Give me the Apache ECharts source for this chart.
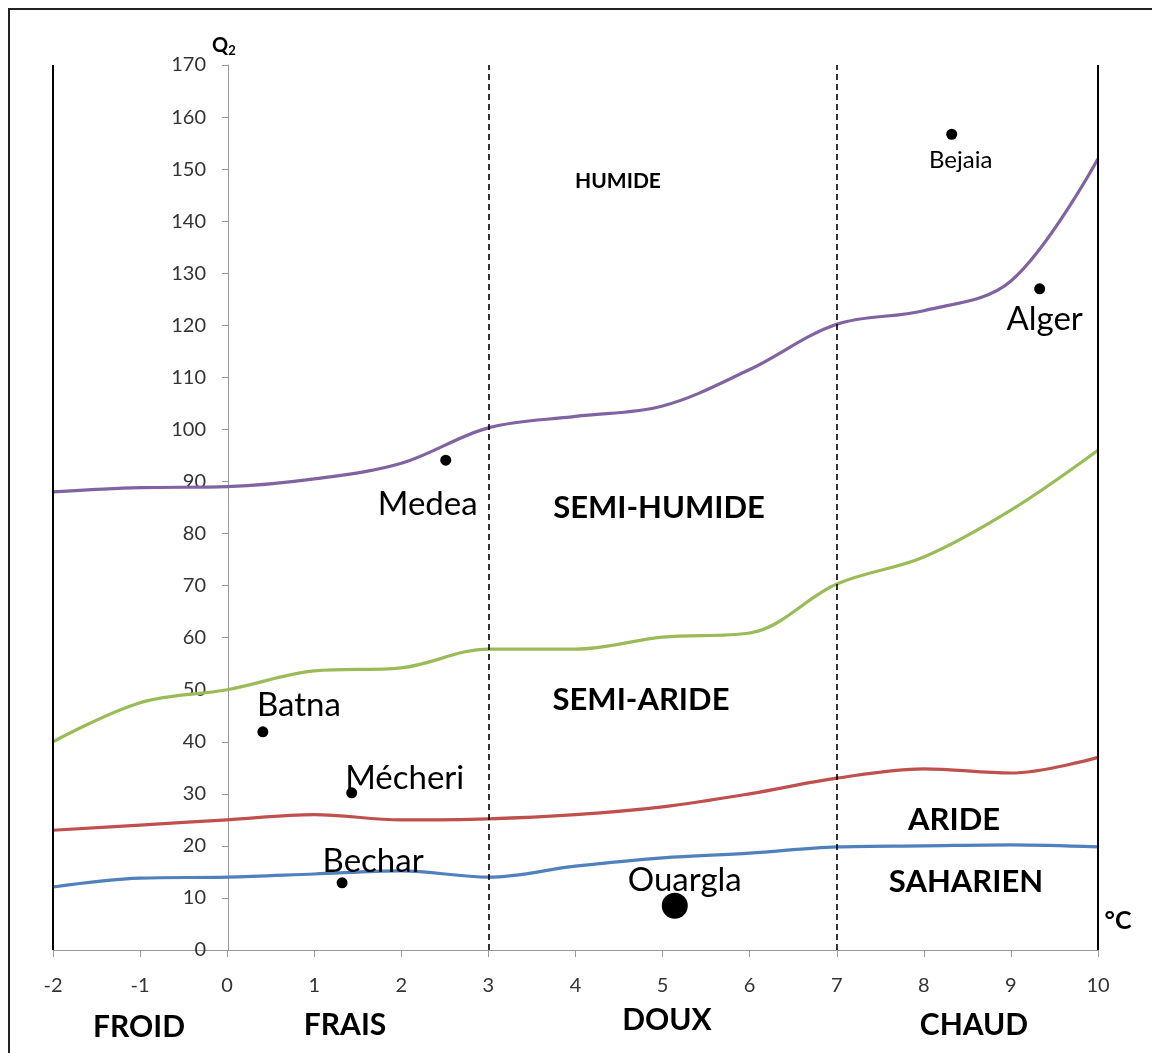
<!DOCTYPE html>
<html>
<head>
<meta charset="utf-8">
<script src="https://cdn.jsdelivr.net/npm/echarts@6/dist/echarts.min.js"></script>
<style>
  html, body { margin: 0; padding: 0; background: #fff; }
  #box { width: 1152px; height: 1053px; }
</style>
</head>
<body>
<div id="box"></div>
<script>
// climagramme d'Emberger -----------------------------------------------------
const temps = [-2, -1, 0, 1, 2, 3, 4, 5, 6, 7, 8, 9, 10];
// limites entre étages bioclimatiques (Q2)
const limHumide = [88, 88.8, 89, 90.5, 93.5, 100.3, 102.5, 104.5, 111.5, 120.2, 122.8, 128.5, 152];
const limSemiHumide = [40, 47.5, 50, 53.6, 54.2, 57.8, 57.8, 60.1, 60.9, 70.3, 75.5, 84.5, 96];
const limSemiAride = [23, 24, 25, 26, 25, 25.2, 26, 27.5, 30, 33, 34.8, 34, 37];
const limAride = [12.1, 13.8, 14, 14.6, 15.2, 14, 16.1, 17.7, 18.6, 19.8, 20, 20.2, 19.8];

// stations
const stations = ['Bejaia', 'Alger', 'Medea', 'Batna', 'Mécheri', 'Bechar', 'Ouargla'];
const stationM = [8.32, 9.33, 2.51, 0.41, 1.43, 1.32, 5.14];
const stationQ2 = [156.7, 127, 94.1, 41.9, 30.2, 12.9, 8.5];

// limites verticales des variantes thermiques
const bordures = [-2, 10];
const limitesM = [3, 7];

// style des étiquettes de station (décalage, taille)
const labelOffsets = [[9, 26], [5, 31], [-18, 44], [36, -27], [53, -14], [31, -21], [10, -25]];
const labelSizes = [24, 33, 33, 33, 33, 33, 33];
const dotSizes = [11, 11, 11, 11, 11, 11, 26];

const FONT = 'Lato, "Open Sans", sans-serif';

function pairs(ys) {
    return temps.map(function (t, i) { return [t, ys[i]]; });
}

function limitLine(ys, color) {
    return {
        type: 'line',
        data: pairs(ys),
        smooth: 0.35,
        symbol: 'none',
        silent: true,
        lineStyle: { color: color, width: 3.2 },
        z: 3
    };
}

const stationData = stations.map(function (n, i) {
    return {
        name: n,
        value: [stationM[i], stationQ2[i]],
        symbolSize: dotSizes[i],
        label: {
            show: true,
            formatter: '{b}',
            position: 'inside',
            offset: labelOffsets[i],
            fontSize: labelSizes[i],
            color: '#000',
            fontFamily: FONT
        }
    };
});

const vertLines = bordures.map(function (v) {
    return { xAxis: v, lineStyle: { color: '#000', width: 2, type: 'solid' } };
}).concat(limitesM.map(function (v) {
    return { xAxis: v, lineStyle: { color: '#000', width: 1.6, type: [6, 4] } };
}));

function txt(x, y, text, size, bold) {
    return {
        type: 'text',
        x: x,
        y: y,
        silent: true,
        style: {
            text: text,
            fill: '#000',
            font: (bold ? 'bold ' : '') + size + 'px ' + FONT,
            align: 'center',
            verticalAlign: 'middle'
        }
    };
}

const axisGrey = '#999';
const labelStyle = { color: '#333', fontSize: 20, fontFamily: FONT };

var option = {
    animation: false,
    backgroundColor: '#fff',
    grid: [
        { left: 53, right: 54, top: 65, bottom: 103 },
        // axe Q2 placé à M = 0
        { left: 228, right: 54, top: 65, bottom: 103 }
    ],
    xAxis: [
        {
            type: 'value',
            min: -2,
            max: 10,
            interval: 1,
            axisLine: { show: true, onZero: false, lineStyle: { color: axisGrey, width: 1 } },
            axisTick: { show: true, length: 7, lineStyle: { color: axisGrey } },
            axisLabel: Object.assign({ margin: 26 }, labelStyle),
            splitLine: { show: false }
        },
        { gridIndex: 1, type: 'value', min: 0, max: 10, show: false }
    ],
    yAxis: [
        { type: 'value', min: 0, max: 170, interval: 10, show: false },
        {
            gridIndex: 1,
            type: 'value',
            min: 0,
            max: 170,
            interval: 10,
            axisLine: { show: true, onZero: false, lineStyle: { color: axisGrey, width: 1 } },
            axisTick: { show: true, length: 6, lineStyle: { color: axisGrey } },
            axisLabel: Object.assign({ margin: 22 }, labelStyle),
            splitLine: { show: false }
        }
    ],
    series: [
        limitLine(limHumide, '#8064A2'),
        limitLine(limSemiHumide, '#9BBB59'),
        limitLine(limSemiAride, '#C0504D'),
        Object.assign(limitLine(limAride, '#4F81BD'), {
            markLine: {
                silent: true,
                symbol: 'none',
                label: { show: false },
                data: vertLines
            }
        }),
        {
            type: 'scatter',
            data: stationData,
            symbol: 'circle',
            itemStyle: { color: '#000', opacity: 1 },
            z: 5
        }
    ],
    graphic: [
        {
            type: 'rect',
            silent: true,
            shape: { x: 9, y: 9, width: 1160, height: 1070 },
            style: { fill: 'none', stroke: '#222', lineWidth: 2 }
        },
        {
            type: 'text',
            x: 212,
            y: 46,
            silent: true,
            style: {
                text: '{q|Q}{s|2}',
                verticalAlign: 'middle',
                rich: {
                    q: { font: 'bold 20px ' + FONT, fill: '#000' },
                    s: { font: 'bold 13px ' + FONT, fill: '#000', padding: [9, 0, 0, 0] }
                }
            }
        },
        txt(618, 181, 'HUMIDE', 21, true),
        txt(659, 508, 'SEMI-HUMIDE', 31, true),
        txt(641, 700, 'SEMI-ARIDE', 31, true),
        txt(954, 820, 'ARIDE', 31, true),
        txt(966, 882, 'SAHARIEN', 31, true),
        txt(1118, 921, '°C', 25, true),
        txt(139, 1027, 'FROID', 30, true),
        txt(345, 1025, 'FRAIS', 30, true),
        txt(667, 1020, 'DOUX', 30, true),
        txt(974, 1025, 'CHAUD', 30, true)
    ]
};

var myChart = echarts.init(document.getElementById('box'));
option && myChart.setOption(option);
</script>
</body>
</html>
